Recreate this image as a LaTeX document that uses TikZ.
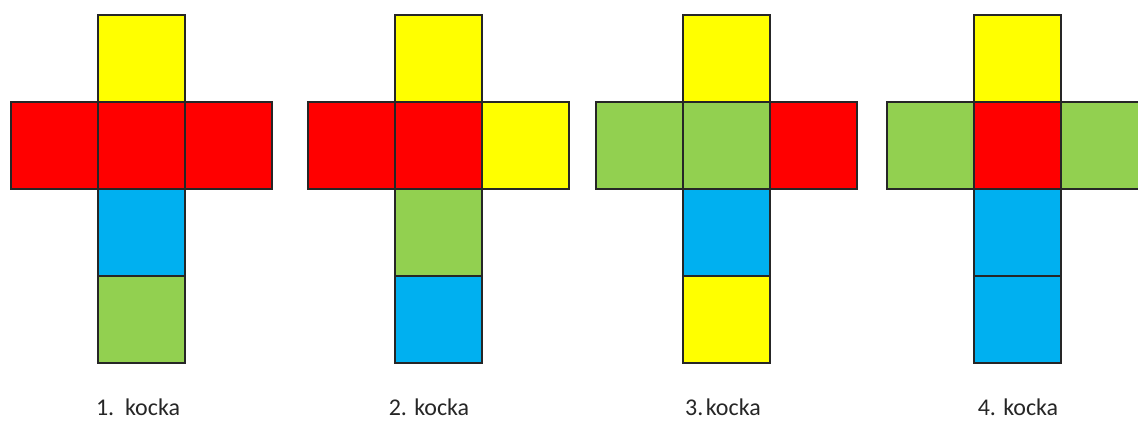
\documentclass[tikz,border=0pt]{standalone}
\usepackage{fontspec}
\setmainfont{Carlito}
\definecolor{cy}{HTML}{FFFF00}
\definecolor{cr}{HTML}{FF0000}
\definecolor{cb}{HTML}{00B0F0}
\definecolor{cg}{HTML}{92D050}
\definecolor{edge}{HTML}{262626}
\tikzset{
  sq/.style={draw=edge, line width=1.4pt, minimum width=87pt, minimum height=87pt, inner sep=0pt, outer sep=0pt},
  lab/.style={font=\fontsize{24}{28}\selectfont, text=black!85, inner sep=0pt, anchor=base}
}
\begin{document}
\begin{tikzpicture}[x=1pt,y=-1pt]
\useasboundingbox (0,0) rectangle (1138,421);
% cross 1
\node[sq, fill=cy] (a1) at (141.5,58.5) {};
\node[sq, fill=cr] (a2) at (54.5,145.5) {};
\node[sq, fill=cr] (a3) at (228.5,145.5) {};
\node[sq, fill=cr] (a4) at (141.5,145.5) {};
\node[sq, fill=cb] (a5) at (141.5,232.5) {};
\node[sq, fill=cg] (a6) at (141.5,319.5) {};
\node[lab] (la) at (138,415.5) {1.\ \ kocka};
% cross 2
\node[sq, fill=cy] (b1) at (438.5,58.5) {};
\node[sq, fill=cr] (b2) at (351.5,145.5) {};
\node[sq, fill=cy] (b3) at (525.5,145.5) {};
\node[sq, fill=cr] (b4) at (438.5,145.5) {};
\node[sq, fill=cg] (b5) at (438.5,232.5) {};
\node[sq, fill=cb] (b6) at (438.5,319.5) {};
\node[lab] (lb) at (429,415.5) {2. kocka};
% cross 3
\node[sq, fill=cy] (c1) at (726.5,58.5) {};
\node[sq, fill=cg] (c2) at (639.5,145.5) {};
\node[sq, fill=cr] (c3) at (813.5,145.5) {};
\node[sq, fill=cg] (c4) at (726.5,145.5) {};
\node[sq, fill=cb] (c5) at (726.5,232.5) {};
\node[sq, fill=cy] (c6) at (726.5,319.5) {};
\node[lab] (lc) at (723,415.5) {3.\kern0.1em kocka};
% cross 4
\node[sq, fill=cy] (d1) at (1017.5,58.5) {};
\node[sq, fill=cg] (d2) at (930.5,145.5) {};
\node[sq, fill=cg] (d3) at (1104.5,145.5) {};
\node[sq, fill=cr] (d4) at (1017.5,145.5) {};
\node[sq, fill=cb] (d5) at (1017.5,232.5) {};
\node[sq, fill=cb] (d6) at (1017.5,319.5) {};
\node[lab] (ld) at (1018,415.5) {4. kocka};
\end{tikzpicture}
\end{document}
